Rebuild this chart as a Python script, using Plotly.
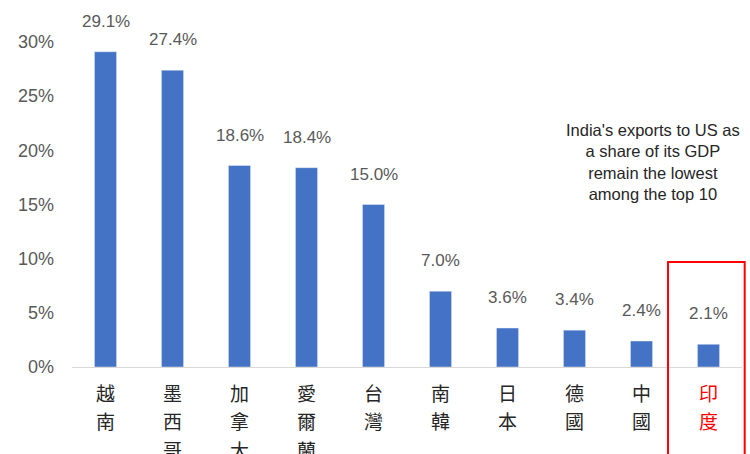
import plotly.graph_objects as go

countries = ["越南", "墨西哥", "加拿大", "愛爾蘭", "台灣", "南韓", "日本", "德國", "中國", "印度"]
values = [29.1, 27.4, 18.6, 18.4, 15.0, 7.0, 3.6, 3.4, 2.4, 2.1]
y_ticks = [0, 5, 10, 15, 20, 25, 30]
note = "India's exports to US as<br>a share of its GDP<br>remain the lowest<br>among the top 10"
highlight = "印度"

FONT = "Liberation Sans Narrow, Arial Narrow, Liberation Sans, Arial, sans-serif"
CJK = "Noto Sans CJK TC, Noto Sans CJK SC, sans-serif"

PLOT_TOP, PLOT_BOTTOM = 42, 367
PLOT_H = PLOT_BOTTOM - PLOT_TOP

fig = go.Figure(go.Bar(
    x=list(range(len(countries))),
    y=values,
    marker_color="#4472C4",
    cliponaxis=False,
    width=0.33,
    hoverinfo="skip",
))

annotations = []
# value labels above bars
for i, v in enumerate(values):
    annotations.append(dict(
        text=f"{v:.1f}%", x=i, y=v, xref="x", yref="y",
        xanchor="center", yanchor="bottom", yshift=19, showarrow=False,
        font=dict(family=FONT, size=17, color="#595959"),
    ))

# stacked vertical category labels, one character per annotation
char_y0, char_step = 392, 28.5
for i, c in enumerate(countries):
    color = "#FF0000" if c == highlight else "#262626"
    for k, ch in enumerate(c):
        py = char_y0 + k * char_step
        annotations.append(dict(
            text=ch, x=i, xref="x", yref="paper",
            y=(PLOT_BOTTOM - py) / PLOT_H,
            xanchor="center", yanchor="middle", showarrow=False,
            font=dict(family=CJK, size=19, color=color),
        ))

annotations.append(dict(
    text=note, xref="paper", yref="paper",
    x=0.867, y=0.632, xanchor="center", yanchor="middle",
    showarrow=False, align="center",
    font=dict(family=FONT, size=16.5, color="#262626"),
))

fig.update_layout(
    width=750, height=454,
    margin=dict(l=72, r=8, t=PLOT_TOP, b=454 - PLOT_BOTTOM),
    plot_bgcolor="white", paper_bgcolor="white",
    showlegend=False,
    xaxis=dict(
        tickvals=list(range(len(countries))),
        showticklabels=False,
        range=[-0.5, len(countries) - 0.5],
        showline=True, linecolor="#D9D9D9", linewidth=1,
        showgrid=False, ticks="", automargin=False,
    ),
    yaxis=dict(
        range=[0, 30],
        tickvals=y_ticks,
        ticktext=[f"{t}%" for t in y_ticks],
        tickfont=dict(family=FONT, size=18, color="#595959"),
        showgrid=False, zeroline=False, showline=False,
        ticks="", ticklabelstandoff=17, automargin=False,
    ),
    annotations=annotations,
    shapes=[dict(
        type="rect", xref="paper", yref="paper",
        x0=0.8896, x1=1.004, y0=-0.3, y1=(PLOT_BOTTOM - 262) / PLOT_H,
        line=dict(color="#FF0000", width=2),
    )],
)

fig.write_html(
    "out.html",
    config={"displayModeBar": False},
    post_script="document.body.style.margin='0px';document.body.style.overflow='hidden';",
)
